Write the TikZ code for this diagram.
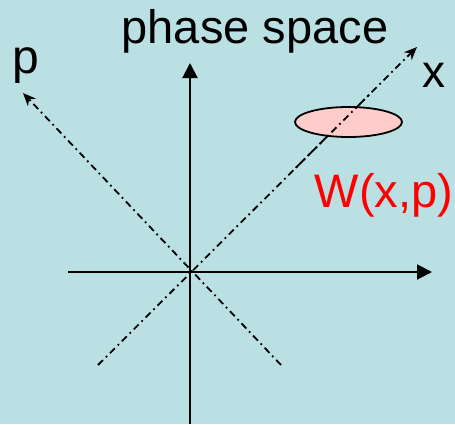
\documentclass[tikz,border=0pt]{standalone}
\usepackage{fontspec}
\setmainfont{Liberation Sans}
\usetikzlibrary{arrows.meta,shapes.geometric,calc}
\definecolor{bgblue}{RGB}{187,224,228}
\definecolor{wpink}{RGB}{255,204,204}
\begin{document}
\begin{tikzpicture}[x=1pt,y=-1pt,
  axis/.style={line width=2pt,-{Triangle[length=15pt,width=15pt]}},
  dashdot/.style={line width=1.8pt,dash pattern=on 7pt off 4pt on 1.8pt off 4pt},
  diag/.style={dashdot,-{Stealth[length=13pt,width=11pt]}},
  lbl/.style={inner sep=0pt,anchor=base}]
\fill[bgblue] (0,0) rectangle (455,424);
\useasboundingbox (0,0) rectangle (455,424);
\coordinate (hl) at (68,272);
\coordinate (hr) at (432,272);
\coordinate (vb) at (190,424);
\coordinate (vt) at (190,63);
\coordinate (xs) at (98,365);
\coordinate (xe) at (417,47);
\coordinate (ps) at (281,365);
\coordinate (pe) at (23,93);
\draw[axis] (hl) -- (hr);
\draw[axis] (vb) -- (vt);
\draw[diag] (xs) -- (xe);
\draw[diag] (ps) -- (pe);
\node[draw=black,line width=1.8pt,fill=wpink,ellipse,minimum width=107pt,minimum height=30pt,inner sep=0pt] (w) at (348.5,122) {};
\draw[dashdot] ($(xs)!0.62!(xe)$) -- ($(xs)!0.85!(xe)$);
\node[lbl] (title) at (255,43) {\fontsize{47}{50}\selectfont phase space};
\node[lbl] (plabel) at (26,73) {\fontsize{48}{50}\selectfont p};
\node[lbl] (xlabel) at (433.5,87) {\fontsize{46}{48}\selectfont x};
\node[lbl,text=red] (wlabel) at (384,207) {\fontsize{47}{50}\selectfont W(x,p)};
\end{tikzpicture}
\end{document}
